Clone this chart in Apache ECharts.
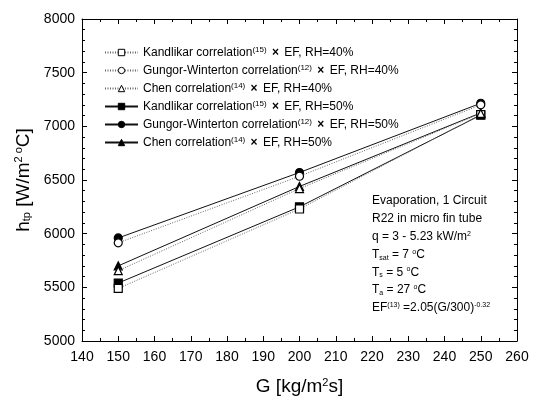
<!DOCTYPE html>
<html>
<head>
<meta charset="utf-8">
<script src="https://cdn.jsdelivr.net/npm/echarts@6/dist/echarts.min.js"></script>
<style>
  html, body { margin: 0; padding: 0; background: #fff; }
  #chart { width: 534px; height: 401px; }
</style>
</head>
<body>
<div id="chart"></div>
<script>
// mass flux G [kg/m2s]
const gValues = [150, 200, 250];

// h_tp [W/m2 C], RH = 40% (hollow markers, dotted lines)
const kandlikar40 = [5490, 6230, 7110];
const gungor40 = [5915, 6535, 7200];
const chen40 = [5655, 6420, 7120];

// RH = 50% (filled markers, solid lines)
const kandlikar50 = [5540, 6250, 7105];
const gungor50 = [5960, 6570, 7215];
const chen50 = [5700, 6440, 7125];

const legendNames = [
    "Kandlikar correlation{sup|(15)} {x|×} EF, RH=40%",
    "Gungor-Winterton correlation{sup|(12)} {x|×} EF, RH=40%",
    "Chen correlation{sup|(14)} {x|×} EF, RH=40%",
    "Kandlikar correlation{sup|(15)} {x|×} EF, RH=50%",
    "Gungor-Winterton correlation{sup|(12)} {x|×} EF, RH=50%",
    "Chen correlation{sup|(14)} {x|×} EF, RH=50%"
];

const noteLines = [
    "Evaporation, 1 Circuit",
    "R22 in micro fin tube",
    "q = 3 - 5.23 kW/m{sup|2}",
    "T{sub|sat} = 7 {sup|o}C",
    "T{sub|s} = 5 {sup|o}C",
    "T{sub|a} = 27 {sup|o}C",
    "EF{sup|(13)} =2.05(G/300){sup|-0.32}"
];

const font = "'Liberation Sans', Arial, sans-serif";

function richFor(size, lift) {
    return {
        sup: { fontSize: size, fontFamily: font, color: '#000', verticalAlign: 'top', padding: [0, 0, lift, 0] },
        sub: { fontSize: size, fontFamily: font, color: '#000', verticalAlign: 'bottom', padding: [lift, 0, 0, 0] },
        x: { fontSize: 12, fontFamily: font, fontWeight: 'bold', color: '#000', padding: [0, 2, 0, 2] }
    };
}

const pairs = (ys) => gValues.map((g, i) => [g, ys[i]]);

function makeSeries(name, ys, symbol, dotted) {
    return {
        name: name,
        type: 'line',
        data: pairs(ys),
        symbol: symbol,
        symbolSize: 8,
        itemStyle: { color: dotted ? '#fff' : '#000', borderColor: '#000', borderWidth: 1.2 },
        lineStyle: dotted
            ? { color: '#666', width: 1, type: [1, 1.5] }
            : { color: '#111', width: 1 },
        z: dotted ? 3 : 2,
        animation: false
    };
}

const chart = echarts.init(document.getElementById('chart'));

function ticks(split) {
    return {
        axisLine: { show: true, lineStyle: { color: '#000', width: 1 } },
        axisTick: { show: true, inside: true, length: 5, lineStyle: { color: '#000', width: 1 } },
        minorTick: { show: true, splitNumber: split, length: 3, lineStyle: { color: '#000', width: 1 } },
        splitLine: { show: false }
    };
}

const axisFont = { fontFamily: font, fontSize: 14, color: '#000' };

const option = {
    backgroundColor: '#fff',
    animation: false,
    grid: { left: 82, right: 17, top: 19, bottom: 60 },
    legend: {
        orient: 'vertical',
        left: 104,
        top: 46,
        itemWidth: 33,
        itemHeight: 8,
        itemGap: 5,
        padding: 0,
        data: legendNames.map((n, i) => ({
            name: n,
            itemStyle: { color: i < 3 ? '#fff' : '#000', borderColor: '#000', borderWidth: 1 }
        })),
        textStyle: { fontFamily: font, fontSize: 12, lineHeight: 13, color: '#000', rich: richFor(8, 6) }
    },
    xAxis: [
        Object.assign({
            type: 'value', min: 140, max: 260, interval: 10,
            axisLabel: Object.assign({ margin: 9 }, axisFont),
            name: 'G [kg/m{sup|2}s]',
            nameLocation: 'middle',
            nameGap: 36,
            nameTextStyle: { fontFamily: font, fontSize: 19, color: '#000', rich: richFor(11, 8) }
        }, ticks(2)),
        Object.assign({
            type: 'value', min: 140, max: 260, interval: 10, position: 'top',
            axisLabel: { show: false }
        }, ticks(2))
    ],
    yAxis: [
        Object.assign({
            type: 'value', min: 5000, max: 8000, interval: 500,
            axisLabel: Object.assign({ margin: 7, formatter: (v) => String(v) }, axisFont),
            name: 'h{sub|tp} [W/m{sup|2 o}C]',
            nameLocation: 'middle',
            nameRotate: 90,
            nameGap: 36,
            nameTextStyle: { fontFamily: font, fontSize: 19, color: '#000', rich: richFor(11, 8) }
        }, ticks(5)),
        Object.assign({
            type: 'value', min: 5000, max: 8000, interval: 500, position: 'right',
            axisLabel: { show: false }
        }, ticks(5))
    ],
    graphic: noteLines.map((t, i) => ({
        type: 'text',
        left: 372,
        top: 195 + i * 17.7,
        style: {
            text: t,
            fontFamily: font,
            fontSize: 12,
            fill: '#000',
            rich: richFor(7, 6)
        }
    })),
    series: [
        makeSeries(legendNames[0], kandlikar40, 'rect', true),
        makeSeries(legendNames[1], gungor40, 'circle', true),
        makeSeries(legendNames[2], chen40, 'triangle', true),
        makeSeries(legendNames[3], kandlikar50, 'rect', false),
        makeSeries(legendNames[4], gungor50, 'circle', false),
        makeSeries(legendNames[5], chen50, 'triangle', false)
    ]
};

chart.setOption(option);
</script>
</body>
</html>
